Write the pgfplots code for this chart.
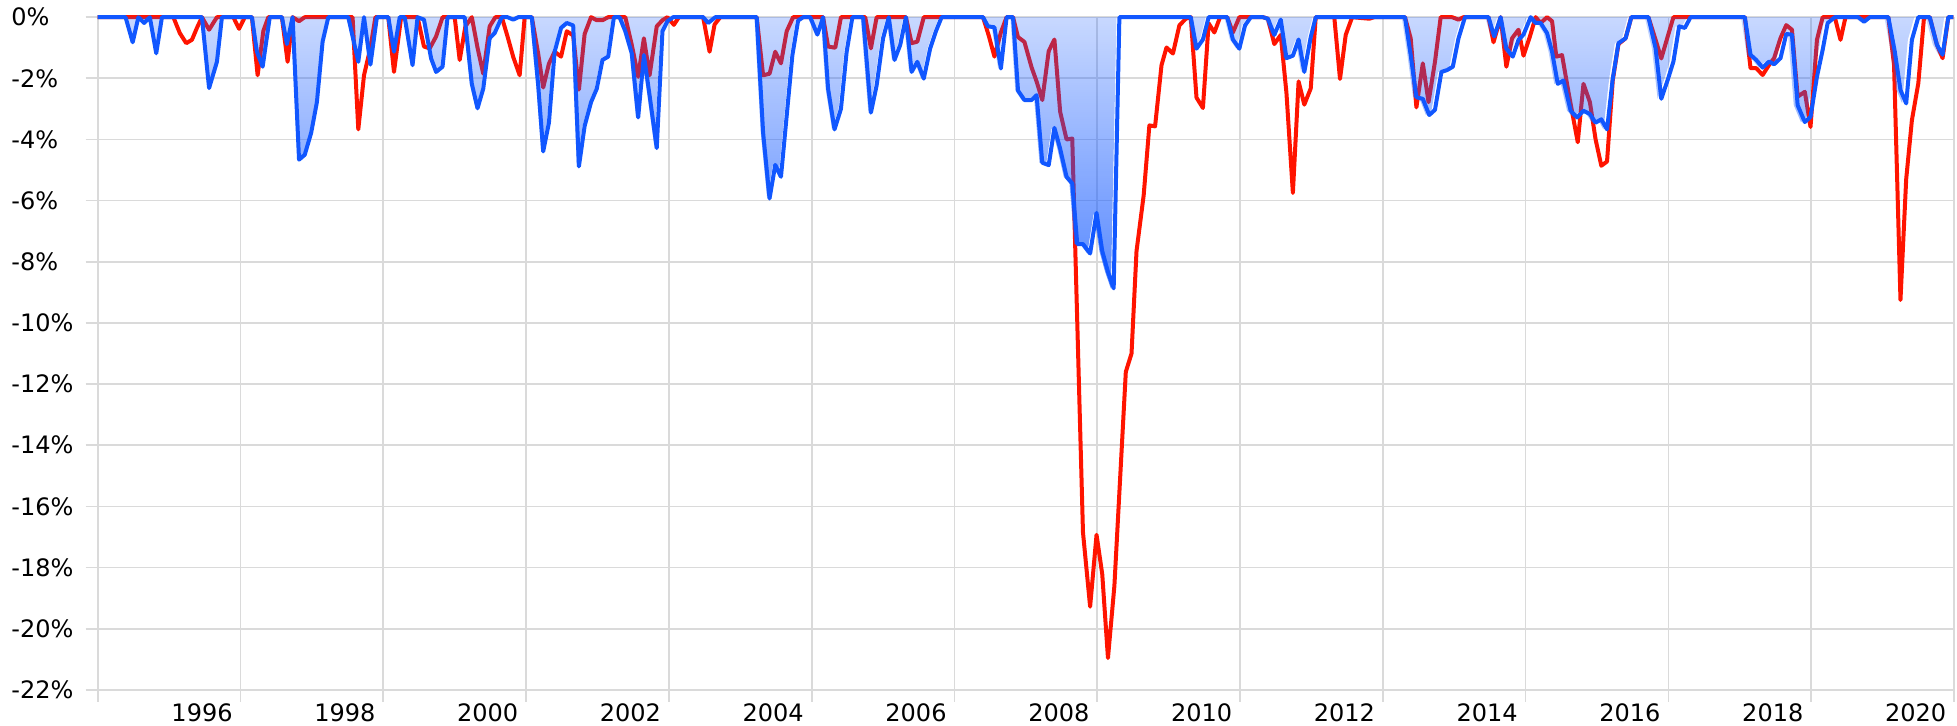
\documentclass[border=0pt]{standalone}
\usepackage{fontspec}
\setmainfont{DejaVu Sans}
\usepackage{pgfplots}
\pgfplotsset{compat=1.18}
\usetikzlibrary{fadings}
\definecolor{redline}{RGB}{255,20,0}
\definecolor{blueline}{RGB}{17,87,255}
\definecolor{gridc}{RGB}{218,218,218}
\tikzfading[name=ddfade, top color=transparent!77, bottom color=transparent!30]
\begin{document}
\begin{tikzpicture}
\begin{axis}[
  scale only axis,
  width=928.15pt, height=336.3pt,
  xmin=1995, xmax=2021, ymin=-22, ymax=0,
  clip=false,
  axis line style={draw=none},
  tick pos=left, tick align=outside,
  major tick length=6pt,
  major tick style={gridc, line width=0.85pt},
  grid=major,
  major grid style={gridc, line width=0.85pt},
  xtick={1995,1997,...,2021},
  xticklabels={},
  extra x ticks={1996,1998,2000,2002,2004,2006,2008,2010,2012,2014,2016,2018,2020},
  extra x tick labels={1996,1998,2000,2002,2004,2006,2008,2010,2012,2014,2016,2018,2020},
  extra x tick style={grid=none, tick style={draw=none},
    xticklabel style={anchor=north west, inner sep=0pt, xshift=1pt, yshift=-0.7pt}},
  ytick={-22,-20,...,0},
  yticklabels={-22\%,-20\%,-18\%,-16\%,-14\%,-12\%,-10\%,-8\%,-6\%,-4\%,-2\%,0\%},
  yticklabel style={anchor=west, inner sep=0pt, xshift=-37.35pt},
  ticklabel style={font=\fontsize{12}{14}\selectfont, text=black},
]
\coordinate (bl) at (rel axis cs:0,0);
\coordinate (tr) at (rel axis cs:1,1);
% red series
\addplot[redline, line width=2pt, line join=round] coordinates {
(1995.00,0) (1996.06,0) (1996.15,-0.52) (1996.24,-0.85) (1996.32,-0.74) (1996.39,-0.35) (1996.46,0)
(1996.56,-0.41) (1996.67,0) (1996.90,0) (1996.98,-0.38) (1997.06,0) (1997.16,0) (1997.24,-1.90)
(1997.32,-0.45) (1997.39,0) (1997.58,0) (1997.66,-1.46) (1997.73,0) (1997.82,-0.13) (1997.90,0)
(1998.57,0) (1998.65,-3.67) (1998.73,-1.90) (1998.82,-1.00) (1998.89,0) (1999.07,0) (1999.15,-1.79)
(1999.25,0) (1999.48,0) (1999.57,-0.96) (1999.65,-1.02) (1999.74,-0.63) (1999.83,0) (2000.00,0)
(2000.07,-1.40) (2000.15,-0.30) (2000.24,0) (2000.32,-1.00) (2000.40,-1.85) (2000.49,-0.30) (2000.57,0)
(2000.66,0) (2000.74,-0.63) (2000.82,-1.30) (2000.91,-1.90) (2000.98,0) (2001.08,0) (2001.17,-1.20)
(2001.24,-2.30) (2001.32,-1.52) (2001.40,-1.13) (2001.49,-1.29) (2001.57,-0.46) (2001.66,-0.60)
(2001.74,-2.37) (2001.82,-0.55) (2001.91,0) (2001.99,-0.10) (2002.07,-0.10) (2002.15,0) (2002.39,0)
(2002.48,-0.90) (2002.57,-1.95) (2002.65,-0.69) (2002.73,-1.90) (2002.83,-0.30) (2002.91,-0.10)
(2002.98,0) (2003.07,-0.25) (2003.14,0) (2003.48,0) (2003.57,-1.13) (2003.64,-0.24) (2003.72,0)
(2004.23,0) (2004.32,-1.90) (2004.41,-1.85) (2004.49,-1.13) (2004.57,-1.51) (2004.65,-0.46) (2004.74,0)
(2005.16,0) (2005.23,-0.96) (2005.33,-1.00) (2005.41,0) (2005.75,0) (2005.83,-1.02) (2005.91,0)
(2006.32,0) (2006.40,-0.85) (2006.48,-0.80) (2006.57,0) (2007.40,0) (2007.48,-0.60) (2007.56,-1.29)
(2007.65,-0.50) (2007.73,0) (2007.82,0) (2007.89,-0.65) (2007.98,-0.81) (2008.08,-1.64) (2008.15,-2.10)
(2008.23,-2.71) (2008.32,-1.11) (2008.40,-0.73) (2008.48,-3.09) (2008.57,-4.00) (2008.65,-3.97)
(2008.80,-16.85) (2008.90,-19.28) (2008.99,-16.93) (2009.07,-18.22) (2009.15,-20.96) (2009.24,-18.60)
(2009.40,-11.60) (2009.48,-11.00) (2009.55,-7.65) (2009.65,-5.83) (2009.73,-3.54) (2009.81,-3.57)
(2009.90,-1.57) (2009.97,-0.99) (2010.06,-1.19) (2010.15,-0.27) (2010.24,-0.05) (2010.31,0)
(2010.39,-2.63) (2010.48,-2.97) (2010.56,-0.20) (2010.64,-0.50) (2010.72,0) (2010.82,0) (2010.90,-0.50)
(2010.99,0) (2011.32,0) (2011.39,-0.05) (2011.48,-0.88) (2011.57,-0.58) (2011.65,-2.48) (2011.74,-5.75)
(2011.82,-2.10) (2011.90,-2.86) (2011.99,-2.33) (2012.06,0) (2012.32,0) (2012.40,-2.02) (2012.48,-0.58)
(2012.57,0) (2012.81,-0.05) (2012.88,0) (2013.31,0) (2013.39,-0.69) (2013.47,-2.95) (2013.56,-1.51)
(2013.64,-2.78) (2013.73,-1.46) (2013.81,0) (2013.97,0) (2014.06,-0.08) (2014.13,0) (2014.48,0)
(2014.55,-0.82) (2014.65,0) (2014.73,-1.62) (2014.81,-0.69) (2014.90,-0.41) (2014.97,-1.26)
(2015.06,-0.63) (2015.14,0) (2015.21,-0.19) (2015.30,0) (2015.37,-0.13) (2015.43,-1.29) (2015.51,-1.24)
(2015.60,-2.45) (2015.67,-3.34) (2015.73,-4.09) (2015.81,-2.18) (2015.90,-2.78) (2015.98,-4.00)
(2016.06,-4.86) (2016.14,-4.72) (2016.22,-2.07) (2016.30,-0.88) (2016.40,-0.69) (2016.48,0)
(2016.72,0) (2016.82,-0.74) (2016.90,-1.35) (2016.99,-0.63) (2017.07,0) (2018.07,0) (2018.15,-1.67)
(2018.23,-1.67) (2018.32,-1.89) (2018.41,-1.56) (2018.48,-1.34) (2018.57,-0.68) (2018.65,-0.26)
(2018.73,-0.41) (2018.81,-2.60) (2018.91,-2.44) (2018.99,-3.59) (2019.08,-0.74) (2019.16,0)
(2019.33,0) (2019.41,-0.74) (2019.48,0) (2020.08,0) (2020.16,-1.56) (2020.25,-9.25) (2020.33,-5.30)
(2020.41,-3.37) (2020.50,-2.16) (2020.58,0) (2020.66,0) (2020.76,-0.90) (2020.84,-1.34) (2020.92,0) (2020.99,0)
};
% blue fill
\addplot[draw=none, fill=blueline, path fading=ddfade] coordinates {
(1995.00,0) (1995.39,0) (1995.49,-0.82) (1995.57,0) (1995.65,-0.19) (1995.73,0) (1995.82,-1.18)
(1995.90,0) (1996.46,0) (1996.56,-2.32) (1996.67,-1.46) (1996.74,0) (1997.16,0) (1997.23,-1.13)
(1997.31,-1.62) (1997.41,0) (1997.58,0) (1997.65,-0.88) (1997.73,0) (1997.82,-4.66) (1997.90,-4.50)
(1997.99,-3.78) (1998.07,-2.78) (1998.15,-0.80) (1998.23,0) (1998.51,0) (1998.65,-1.46) (1998.73,0)
(1998.82,-1.55) (1998.91,0) (1999.07,0) (1999.15,-1.13) (1999.23,0) (1999.30,0) (1999.41,-1.57)
(1999.48,0) (1999.57,-0.08) (1999.67,-1.35) (1999.74,-1.79) (1999.83,-1.62) (1999.90,0) (2000.14,0)
(2000.24,-2.18) (2000.32,-2.98) (2000.40,-2.34) (2000.49,-0.69) (2000.56,-0.52) (2000.66,0) (2000.74,0)
(2000.82,-0.08) (2000.89,0) (2001.08,0) (2001.17,-2.23) (2001.24,-4.39) (2001.32,-3.45) (2001.40,-1.13)
(2001.49,-0.35) (2001.57,-0.19) (2001.66,-0.27) (2001.74,-4.88) (2001.82,-3.56) (2001.91,-2.78)
(2001.99,-2.34) (2002.07,-1.40) (2002.15,-1.29) (2002.23,0) (2002.31,0) (2002.39,-0.46) (2002.48,-1.18)
(2002.57,-3.28) (2002.65,-1.24) (2002.73,-2.56) (2002.83,-4.28) (2002.91,-0.46) (2002.98,-0.13)
(2003.06,0) (2003.48,0) (2003.55,-0.19) (2003.65,0) (2004.23,0) (2004.32,-3.78) (2004.41,-5.93)
(2004.49,-4.83) (2004.57,-5.22) (2004.65,-3.23) (2004.73,-1.24) (2004.81,-0.11) (2004.88,0) (2004.98,0)
(2005.08,-0.57) (2005.16,0) (2005.23,-2.34) (2005.32,-3.67) (2005.41,-3.00) (2005.49,-1.13) (2005.57,0)
(2005.72,0) (2005.83,-3.12) (2005.91,-2.23) (2006.00,-0.69) (2006.08,0) (2006.16,-1.40) (2006.24,-0.91)
(2006.32,0) (2006.40,-1.79) (2006.48,-1.46) (2006.57,-2.01) (2006.66,-1.02) (2006.74,-0.46) (2006.82,0)
(2007.40,0) (2007.47,-0.30) (2007.56,-0.33) (2007.65,-1.68) (2007.73,0) (2007.82,0) (2007.89,-2.40)
(2007.98,-2.71) (2008.08,-2.71) (2008.15,-2.55) (2008.23,-4.76) (2008.32,-4.84) (2008.40,-3.62)
(2008.48,-4.30) (2008.57,-5.22) (2008.65,-5.44) (2008.72,-7.42) (2008.80,-7.42) (2008.90,-7.73)
(2008.99,-6.40) (2009.07,-7.65) (2009.15,-8.33) (2009.23,-8.87) (2009.31,0) (2010.31,0) (2010.39,-1.03)
(2010.48,-0.73) (2010.56,0) (2010.82,0) (2010.90,-0.73) (2010.99,-1.03) (2011.07,-0.27) (2011.15,0)
(2011.32,0) (2011.39,-0.05) (2011.48,-0.58) (2011.57,-0.08) (2011.65,-1.34) (2011.74,-1.26)
(2011.82,-0.73) (2011.90,-1.79) (2011.99,-0.65) (2012.06,0) (2013.31,0) (2013.39,-1.24) (2013.47,-2.62)
(2013.56,-2.67) (2013.65,-3.20) (2013.73,-3.03) (2013.82,-1.79) (2013.90,-1.73) (2013.98,-1.62)
(2014.06,-0.69) (2014.15,0) (2014.48,0) (2014.56,-0.63) (2014.65,0) (2014.73,-1.02) (2014.82,-1.29)
(2014.90,-0.74) (2014.97,-0.57) (2015.07,0) (2015.14,-0.19) (2015.21,-0.19) (2015.30,-0.52)
(2015.37,-1.13) (2015.45,-2.18) (2015.53,-2.07) (2015.63,-3.06) (2015.72,-3.28) (2015.81,-3.06)
(2015.90,-3.17) (2015.98,-3.45) (2016.06,-3.34) (2016.14,-3.67) (2016.22,-2.01) (2016.30,-0.85)
(2016.40,-0.69) (2016.48,0) (2016.72,0) (2016.82,-1.02) (2016.90,-2.67) (2016.99,-2.05) (2017.07,-1.45)
(2017.15,-0.30) (2017.23,-0.35) (2017.31,0) (2018.07,0) (2018.15,-1.23) (2018.23,-1.40) (2018.32,-1.65)
(2018.41,-1.45) (2018.48,-1.54) (2018.57,-1.34) (2018.65,-0.55) (2018.73,-0.57) (2018.81,-2.88)
(2018.91,-3.43) (2018.99,-3.26) (2019.08,-1.95) (2019.16,-1.07) (2019.23,-0.19) (2019.33,0) (2019.66,0)
(2019.74,-0.15) (2019.82,0) (2020.08,0) (2020.17,-1.12) (2020.25,-2.38) (2020.33,-2.82) (2020.41,-0.74)
(2020.50,0) (2020.66,0) (2020.76,-0.90) (2020.84,-1.23) (2020.92,0) (2020.99,0)
};
% blue line
\addplot[blueline, line width=2pt, line join=round] coordinates {
(1995.00,0) (1995.39,0) (1995.49,-0.82) (1995.57,0) (1995.65,-0.19) (1995.73,0) (1995.82,-1.18)
(1995.90,0) (1996.46,0) (1996.56,-2.32) (1996.67,-1.46) (1996.74,0) (1997.16,0) (1997.23,-1.13)
(1997.31,-1.62) (1997.41,0) (1997.58,0) (1997.65,-0.88) (1997.73,0) (1997.82,-4.66) (1997.90,-4.50)
(1997.99,-3.78) (1998.07,-2.78) (1998.15,-0.80) (1998.23,0) (1998.51,0) (1998.65,-1.46) (1998.73,0)
(1998.82,-1.55) (1998.91,0) (1999.07,0) (1999.15,-1.13) (1999.23,0) (1999.30,0) (1999.41,-1.57)
(1999.48,0) (1999.57,-0.08) (1999.67,-1.35) (1999.74,-1.79) (1999.83,-1.62) (1999.90,0) (2000.14,0)
(2000.24,-2.18) (2000.32,-2.98) (2000.40,-2.34) (2000.49,-0.69) (2000.56,-0.52) (2000.66,0) (2000.74,0)
(2000.82,-0.08) (2000.89,0) (2001.08,0) (2001.17,-2.23) (2001.24,-4.39) (2001.32,-3.45) (2001.40,-1.13)
(2001.49,-0.35) (2001.57,-0.19) (2001.66,-0.27) (2001.74,-4.88) (2001.82,-3.56) (2001.91,-2.78)
(2001.99,-2.34) (2002.07,-1.40) (2002.15,-1.29) (2002.23,0) (2002.31,0) (2002.39,-0.46) (2002.48,-1.18)
(2002.57,-3.28) (2002.65,-1.24) (2002.73,-2.56) (2002.83,-4.28) (2002.91,-0.46) (2002.98,-0.13)
(2003.06,0) (2003.48,0) (2003.55,-0.19) (2003.65,0) (2004.23,0) (2004.32,-3.78) (2004.41,-5.93)
(2004.49,-4.83) (2004.57,-5.22) (2004.65,-3.23) (2004.73,-1.24) (2004.81,-0.11) (2004.88,0) (2004.98,0)
(2005.08,-0.57) (2005.16,0) (2005.23,-2.34) (2005.32,-3.67) (2005.41,-3.00) (2005.49,-1.13) (2005.57,0)
(2005.72,0) (2005.83,-3.12) (2005.91,-2.23) (2006.00,-0.69) (2006.08,0) (2006.16,-1.40) (2006.24,-0.91)
(2006.32,0) (2006.40,-1.79) (2006.48,-1.46) (2006.57,-2.01) (2006.66,-1.02) (2006.74,-0.46) (2006.82,0)
(2007.40,0) (2007.47,-0.30) (2007.56,-0.33) (2007.65,-1.68) (2007.73,0) (2007.82,0) (2007.89,-2.40)
(2007.98,-2.71) (2008.08,-2.71) (2008.15,-2.55) (2008.23,-4.76) (2008.32,-4.84) (2008.40,-3.62)
(2008.48,-4.30) (2008.57,-5.22) (2008.65,-5.44) (2008.72,-7.42) (2008.80,-7.42) (2008.90,-7.73)
(2008.99,-6.40) (2009.07,-7.65) (2009.15,-8.33) (2009.23,-8.87) (2009.31,0) (2010.31,0) (2010.39,-1.03)
(2010.48,-0.73) (2010.56,0) (2010.82,0) (2010.90,-0.73) (2010.99,-1.03) (2011.07,-0.27) (2011.15,0)
(2011.32,0) (2011.39,-0.05) (2011.48,-0.58) (2011.57,-0.08) (2011.65,-1.34) (2011.74,-1.26)
(2011.82,-0.73) (2011.90,-1.79) (2011.99,-0.65) (2012.06,0) (2013.31,0) (2013.39,-1.24) (2013.47,-2.62)
(2013.56,-2.67) (2013.65,-3.20) (2013.73,-3.03) (2013.82,-1.79) (2013.90,-1.73) (2013.98,-1.62)
(2014.06,-0.69) (2014.15,0) (2014.48,0) (2014.56,-0.63) (2014.65,0) (2014.73,-1.02) (2014.82,-1.29)
(2014.90,-0.74) (2014.97,-0.57) (2015.07,0) (2015.14,-0.19) (2015.21,-0.19) (2015.30,-0.52)
(2015.37,-1.13) (2015.45,-2.18) (2015.53,-2.07) (2015.63,-3.06) (2015.72,-3.28) (2015.81,-3.06)
(2015.90,-3.17) (2015.98,-3.45) (2016.06,-3.34) (2016.14,-3.67) (2016.22,-2.01) (2016.30,-0.85)
(2016.40,-0.69) (2016.48,0) (2016.72,0) (2016.82,-1.02) (2016.90,-2.67) (2016.99,-2.05) (2017.07,-1.45)
(2017.15,-0.30) (2017.23,-0.35) (2017.31,0) (2018.07,0) (2018.15,-1.23) (2018.23,-1.40) (2018.32,-1.65)
(2018.41,-1.45) (2018.48,-1.54) (2018.57,-1.34) (2018.65,-0.55) (2018.73,-0.57) (2018.81,-2.88)
(2018.91,-3.43) (2018.99,-3.26) (2019.08,-1.95) (2019.16,-1.07) (2019.23,-0.19) (2019.33,0) (2019.66,0)
(2019.74,-0.15) (2019.82,0) (2020.08,0) (2020.17,-1.12) (2020.25,-2.38) (2020.33,-2.82) (2020.41,-0.74)
(2020.50,0) (2020.66,0) (2020.76,-0.90) (2020.84,-1.23) (2020.92,0) (2020.99,0)
};
\end{axis}
\pgfresetboundingbox
\path[use as bounding box] ([xshift=-48.85pt,yshift=-18.1pt]bl) rectangle ([xshift=1.5pt,yshift=8.6pt]tr);
\end{tikzpicture}
\end{document}
